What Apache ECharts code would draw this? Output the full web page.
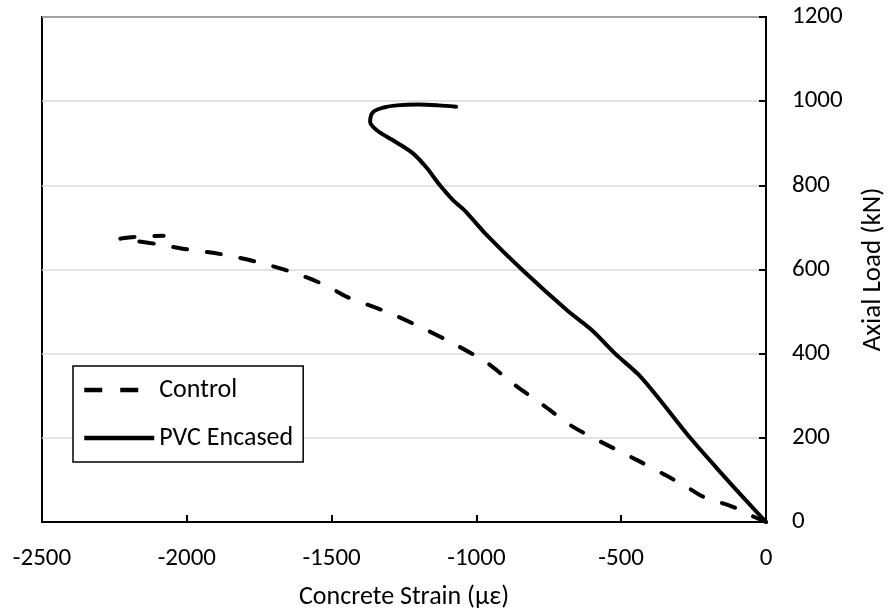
<!DOCTYPE html>
<html>
<head>
<meta charset="utf-8">
<script src="https://cdn.jsdelivr.net/npm/echarts@6/dist/echarts.min.js"></script>
<style>html,body{margin:0;padding:0;background:#fff;}#c{width:891px;height:615px;}</style>
</head>
<body>
<div id="c"></div>
<script>
var xTicks = [-2500, -2000, -1500, -1000, -500, 0];
var yTicks = [0, 200, 400, 600, 800, 1000, 1200];

var controlStrain = [0, -60, -114, -217, -273, -349, -445, -563, -666, -770, -870, -963, -1074, -1184, -1298, -1402, -1447, -1523, -1637, -1758, -1878, -2000, -2100, -2180, -2230, -2170, -2080];
var controlLoad   = [0, 18, 36, 60, 83, 112, 147, 188, 226, 278, 327, 378, 422, 460, 496, 523, 535, 563, 594, 618, 636, 648, 660, 668, 673, 678, 680];

var pvcStrain = [0, -70, -140, -262, -366, -440, -521, -600, -687, -843, -970, -1040, -1081, -1126, -1171, -1219, -1288, -1344, -1367, -1357, -1320, -1275, -1200, -1130, -1070];
var pvcLoad   = [0, 52, 105, 200, 290, 350, 400, 455, 503, 600, 686, 740, 765, 800, 841, 876, 907, 931, 951, 974, 985, 990, 992, 990, 987];

var seriesNames = ['Control', 'PVC Encased'];

function pairs(xs, ys){ return xs.map(function(x,i){ return [x, ys[i]]; }); }

var font = 'Carlito, Lato, "Open Sans", sans-serif';
var dashPattern = [14, 20];
var chart = echarts.init(document.getElementById('c'), null, {renderer:'canvas'});
chart.setOption({
  animation: false,
  backgroundColor: '#fff',
  textStyle: {fontFamily: font},
  grid: {left: 42, right: 125, top: 17, bottom: 93, containLabel: false, outerBoundsMode: 'none',
         show: true, borderColor: '#000', borderWidth: 2, backgroundColor: 'transparent'},
  legend: {
    orient: 'vertical', left: 73, top: 366,
    backgroundColor: '#fff',
    borderColor: '#000', borderWidth: 1.5, borderRadius: 0,
    padding: [11, 10, 11, 9],
    itemWidth: 70, itemHeight: 26, itemGap: 22,
    textStyle: {fontFamily: font, fontSize: 26, color: '#000'},
    itemStyle: {opacity: 0},
    data: [
      {name: seriesNames[0], itemStyle: {opacity: 0}, lineStyle: {color: '#000', width: 4.5, type: [18, 18], cap: 'butt'}},
      {name: seriesNames[1], itemStyle: {opacity: 0}, lineStyle: {color: '#000', width: 4.5, type: 'solid', cap: 'butt'}}
    ]
  },
  xAxis: {
    type: 'value', min: xTicks[0], max: xTicks[xTicks.length-1], interval: 500,
    name: 'Concrete Strain (\u03bc\u03b5)', nameLocation: 'middle', nameGap: 62,
    nameTextStyle: {fontFamily: font, fontSize: 26, color: '#000'},
    axisLine: {show: true, onZero: false, lineStyle: {color: '#000', width: 2}},
    axisTick: {show: true, inside: true, length: 7, lineStyle: {color: '#000', width: 2}},
    axisLabel: {fontFamily: font, fontSize: 25, color: '#000', margin: 24, formatter: function(v){ return String(v); }},
    splitLine: {show: false}
  },
  yAxis: {
    type: 'value', position: 'right', min: yTicks[0], max: yTicks[yTicks.length-1], interval: 200,
    name: 'Axial Load (kN)', nameLocation: 'middle', nameGap: 94, nameRotate: 90,
    nameTextStyle: {fontFamily: font, fontSize: 27, color: '#000'},
    axisLine: {show: true, onZero: false, lineStyle: {color: '#000', width: 2}},
    axisTick: {show: true, inside: true, length: 7, lineStyle: {color: '#000', width: 2}},
    axisLabel: {fontFamily: font, fontSize: 25, color: '#000', margin: 26, align: 'left', formatter: function(v){ return String(v); }},
    splitLine: {show: true, lineStyle: {color: '#d9d9d9', width: 1.5}}
  },
  series: [
    {
      name: seriesNames[0], type: 'line', data: pairs(controlStrain, controlLoad),
      showSymbol: false, symbol: 'none', smooth: 0.3,
      lineStyle: {color: '#000', width: 4, type: dashPattern, cap: 'round'},
      itemStyle: {color: '#000'}
    },
    {
      name: seriesNames[1], type: 'line', data: pairs(pvcStrain, pvcLoad),
      showSymbol: false, symbol: 'none', smooth: 0.3,
      lineStyle: {color: '#000', width: 4, cap: 'round'},
      itemStyle: {color: '#000'}
    }
  ]
});
</script>
</body>
</html>
